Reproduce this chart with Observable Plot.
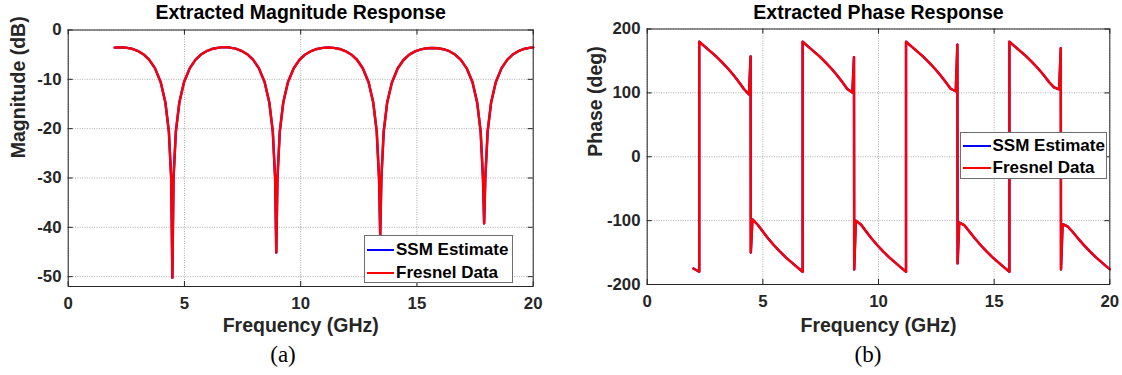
<!DOCTYPE html>
<html><head><meta charset="utf-8">
<script src="https://cdn.jsdelivr.net/npm/d3@7"></script>
<script src="https://cdn.jsdelivr.net/npm/@observablehq/plot@0.6"></script>
<style>
body{margin:0;background:#fff;}
#wrap{position:relative;width:1122px;height:375px;overflow:hidden;font-family:"Liberation Sans",Arial,sans-serif;background:#fff;}
.panel{position:absolute;top:0;}
.legend{position:absolute;background:#fff;border:1px solid #6e6e6e;box-sizing:border-box;font-weight:bold;font-size:17px;color:#000;}
.row{position:absolute;left:0;height:20px;display:flex;align-items:center;white-space:nowrap;}
.swatch{height:2px;margin-right:2px;}
.cap{position:absolute;font-family:"Liberation Serif","Times New Roman",serif;font-size:23px;color:#000;transform:translate(-50%,-50%);white-space:nowrap;}
</style></head>
<body><div id="wrap"></div>
<script>
// ---------- data ----------
const xTicks = [0, 5, 10, 15, 20];
const magTicks = [0, -10, -20, -30, -40, -50];
const phaseTicks = [200, 100, 0, -100, -200];
const seriesNames = ["SSM Estimate", "Fresnel Data"];
const seriesColors = ["#0000ff", "#ff0000"];

const magFreq = [2.0, 2.25,
  2.48, 2.73, 2.98, 3.23, 3.48, 3.73, 3.98, 4.18, 4.33, 4.43, 4.48, 4.53, 4.63, 4.78, 4.98, 5.23, 5.48, 5.73, 5.98, 6.23, 6.48, 6.72,
  6.95, 7.20, 7.45, 7.70, 7.95, 8.20, 8.45, 8.65, 8.80, 8.90, 8.95, 9.00, 9.10, 9.25, 9.45, 9.70, 9.95, 10.20, 10.45, 10.70, 10.95, 11.19,
  11.42, 11.67, 11.92, 12.17, 12.42, 12.67, 12.92, 13.12, 13.27, 13.37, 13.42, 13.47, 13.57, 13.72, 13.92, 14.17, 14.42, 14.67, 14.92, 15.17, 15.42, 15.66,
  15.89, 16.14, 16.39, 16.64, 16.89, 17.14, 17.39, 17.59, 17.74, 17.84, 17.89, 17.94, 18.04, 18.19, 18.39, 18.64, 18.89, 19.14, 19.39, 19.64, 19.89, 20.0];
const magFresnel = [-3.57, -3.50,
  -3.57, -3.80, -4.22, -4.91, -6.00, -7.73, -10.6, -14.7, -20.6, -30.1, -50.2, -30.1, -20.6, -14.7, -10.6, -7.73, -6.00, -4.91, -4.22, -3.80, -3.57, -3.48,
  -3.56, -3.79, -4.21, -4.90, -6.00, -7.73, -10.6, -14.7, -20.6, -30.1, -45.1, -30.1, -20.6, -14.7, -10.6, -7.75, -6.03, -4.95, -4.27, -3.85, -3.62, -3.55,
  -3.62, -3.85, -4.27, -4.95, -6.03, -7.76, -10.6, -14.7, -20.6, -30.1, -41.7, -30.1, -20.6, -14.7, -10.7, -7.80, -6.08, -5.00, -4.33, -3.92, -3.70, -3.64,
  -3.70, -3.90, -4.30, -4.97, -6.05, -7.77, -10.6, -14.7, -20.6, -30.1, -39.2, -30.1, -20.6, -14.7, -10.6, -7.73, -6.00, -4.91, -4.22, -3.80, -3.57, -3.53];
const magSSM = magFresnel;

const phaseFreq = [2.0, 2.25, 2.25,
  2.48, 2.73, 2.98, 3.23, 3.48, 3.73, 3.98, 4.18, 4.40, 4.47, 4.48, 4.55, 4.78, 4.98, 5.23, 5.48, 5.73, 5.98, 6.23, 6.48, 6.72, 6.72,
  6.95, 7.20, 7.45, 7.70, 7.95, 8.20, 8.45, 8.65, 8.87, 8.94, 8.95, 9.02, 9.25, 9.45, 9.70, 9.95, 10.20, 10.45, 10.70, 10.95, 11.19, 11.19,
  11.42, 11.67, 11.92, 12.17, 12.42, 12.67, 12.92, 13.12, 13.34, 13.41, 13.42, 13.49, 13.72, 13.92, 14.17, 14.42, 14.67, 14.92, 15.17, 15.42, 15.66, 15.66,
  15.89, 16.14, 16.39, 16.64, 16.89, 17.14, 17.39, 17.59, 17.81, 17.88, 17.89, 17.96, 18.19, 18.39, 18.64, 18.89, 19.14, 19.39, 19.64, 19.89, 20.0];
const phaseFresnel = [-175, -180, 180,
  172.8, 165.1, 157.0, 148.2, 138.6, 128.0, 116.2, 106.0, 97.5, 157, -150, -98, -106.5, -116.2, -128.0, -138.6, -148.2, -157.0, -165.1, -172.8, -180, 180,
  172.8, 165.1, 157.0, 148.2, 138.6, 128.0, 116.2, 106.0, 100.5, 156, -176.5, -100, -106.5, -116.2, -128.0, -138.6, -148.2, -157.0, -165.1, -172.8, -180, 180,
  172.8, 165.1, 157.0, 148.2, 138.6, 128.0, 116.2, 106.5, 102.5, 175.5, -167, -103, -107.5, -116.5, -128.0, -138.6, -148.2, -157.0, -165.1, -172.8, -180, 180,
  172.8, 165.1, 157.0, 148.2, 138.6, 128.0, 116.2, 108.5, 105.5, 170, -176.5, -105.5, -109.5, -117.5, -128.5, -138.8, -148.2, -157.0, -165.1, -172.8, -176];
const phaseSSM = phaseFresnel;

// ---------- drawing ----------
const wrap = document.getElementById("wrap");
const FONT = '"Liberation Sans", Arial, Helvetica, sans-serif';

function panel(cfg) {
  const {freq, series, yDomain, yTicks, title, ylabel, xlabel, left, width, height,
         marginLeft, marginRight, marginTop, marginBottom, ylabelDx, xlabelDy, titleDy} = cfg;
  const innerH = height - marginTop - marginBottom;
  const innerW = width - marginLeft - marginRight;
  const lineMarks = series.map((vals, k) =>
    Plot.line(freq.map((f, i) => ({f, v: vals[i]})),
      {x: "f", y: "v", stroke: seriesColors[k], strokeWidth: 2.4, strokeLinejoin: "round"}));
  const gridStyle = {stroke: "#262626", strokeOpacity: 0.38, strokeDasharray: "1,1.4", strokeWidth: 1};
  const tickStyle = {stroke: "#262626", strokeWidth: 1};
  const svg = Plot.plot({
    width, height, marginLeft, marginRight, marginTop, marginBottom,
    style: {fontFamily: FONT, fontWeight: "bold", fontSize: "16.8px", color: "#262626",
            background: "transparent", overflow: "visible"},
    x: {domain: [0, 20], ticks: xTicks, tickSize: 0, tickPadding: 10.5, tickFormat: d => String(d), label: null},
    y: {domain: yDomain, ticks: yTicks, tickSize: 0, tickPadding: 6.7, tickFormat: d => String(d), label: null},
    marks: [
      Plot.ruleX(xTicks, {x: d => d, ...gridStyle}),
      Plot.ruleY(yTicks, {y: d => d, ...gridStyle}),
      ...lineMarks,
      Plot.tickX(xTicks, {x: d => d, insetTop: innerH - 5, ...tickStyle}),
      Plot.tickX(xTicks, {x: d => d, insetBottom: innerH - 5, ...tickStyle}),
      Plot.tickY(yTicks, {y: d => d, insetRight: innerW - 5, ...tickStyle}),
      Plot.tickY(yTicks, {y: d => d, insetLeft: innerW - 5, ...tickStyle}),
      Plot.frame({stroke: "#262626", strokeWidth: 1}),
      Plot.text([title], {text: d => d, frameAnchor: "top", dy: titleDy, fontSize: 19.5, fill: "#000"}),
      Plot.text([xlabel], {text: d => d, frameAnchor: "bottom", dy: xlabelDy, fontSize: 19.5, fill: "#262626"}),
      Plot.text([ylabel], {text: d => d, frameAnchor: "left", dx: ylabelDx, rotate: -90, fontSize: 19.5, fill: "#262626"})
    ]
  });
  const holder = document.createElement("div");
  holder.className = "panel";
  holder.style.left = left + "px";
  holder.appendChild(svg);
  wrap.appendChild(holder);
}

panel({freq: magFreq, series: [magSSM, magFresnel], yDomain: [-52, 0], yTicks: magTicks,
  title: "Extracted Magnitude Response", ylabel: "Magnitude (dB)", xlabel: "Frequency (GHz)",
  left: 0, width: 561, height: 340, marginLeft: 67.7, marginRight: 28.3, marginTop: 29.5, marginBottom: 54,
  ylabelDx: -49.4, xlabelDy: 45.5, titleDy: -25});

panel({freq: phaseFreq, series: [phaseSSM, phaseFresnel], yDomain: [-200, 200], yTicks: phaseTicks,
  title: "Extracted Phase Response", ylabel: "Phase (deg)", xlabel: "Frequency (GHz)",
  left: 561, width: 561, height: 340, marginLeft: 85.7, marginRight: 12.7, marginTop: 28.5, marginBottom: 56,
  ylabelDx: -51.7, xlabelDy: 47.5, titleDy: -24});

function legend(x, y, w, h, rows, swLeft, swW) {
  const box = document.createElement("div");
  box.className = "legend";
  Object.assign(box.style, {left: x + "px", top: y + "px", width: w + "px", height: h + "px"});
  seriesNames.forEach((name, k) => {
    const r = document.createElement("div");
    r.className = "row";
    r.style.top = (rows[k] - 10) + "px";
    r.style.left = swLeft + "px";
    const sw = document.createElement("div");
    sw.className = "swatch";
    sw.style.width = swW + "px";
    sw.style.background = seriesColors[k];
    const t = document.createElement("span");
    t.textContent = name;
    r.appendChild(sw); r.appendChild(t);
    box.appendChild(r);
  });
  wrap.appendChild(box);
}
legend(364, 235, 149, 48, [14.3, 36.7], 2, 27);
legend(960, 132, 147, 47, [13, 35.3], 1.5, 28);

[["(a)", 283, 355], ["(b)", 868, 355]].forEach(([t, x, y]) => {
  const c = document.createElement("div");
  c.className = "cap";
  c.textContent = t;
  c.style.left = x + "px"; c.style.top = y + "px";
  wrap.appendChild(c);
});
</script></body></html>
